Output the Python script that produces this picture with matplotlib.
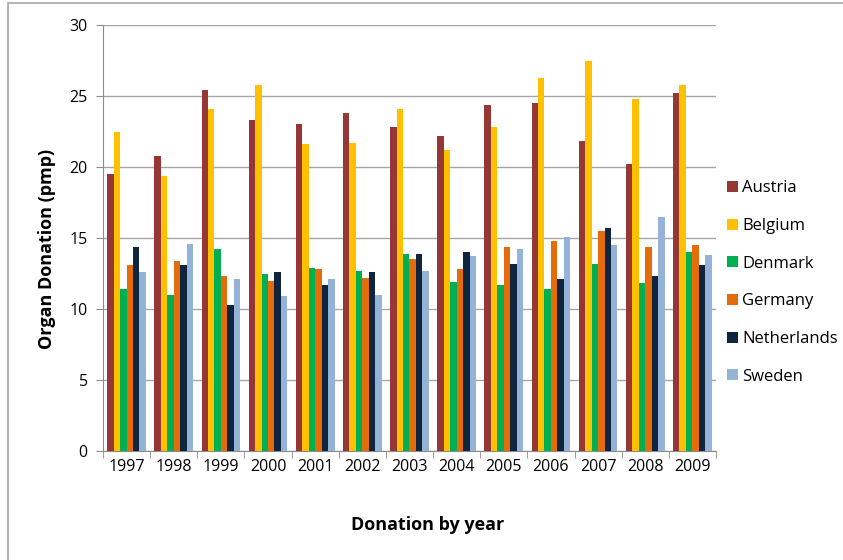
import numpy as np
import matplotlib.pyplot as plt
from matplotlib.patches import Rectangle

years = ["1997", "1998", "1999", "2000", "2001", "2002", "2003",
         "2004", "2005", "2006", "2007", "2008", "2009"]
countries = ["Austria", "Belgium", "Denmark", "Germany", "Netherlands", "Sweden"]

austria = [19.5, 20.8, 25.4, 23.3, 23.0, 23.8, 22.8, 22.2, 24.4, 24.5, 21.8, 20.2, 25.2]
belgium = [22.5, 19.4, 24.1, 25.8, 21.6, 21.7, 24.1, 21.2, 22.8, 26.3, 27.5, 24.8, 25.8]
denmark = [11.4, 11.0, 14.2, 12.5, 12.9, 12.7, 13.9, 11.9, 11.7, 11.4, 13.2, 11.8, 14.0]
germany = [13.1, 13.4, 12.3, 12.0, 12.8, 12.2, 13.5, 12.8, 14.4, 14.8, 15.5, 14.4, 14.5]
netherlands = [14.4, 13.1, 10.3, 12.6, 11.7, 12.6, 13.9, 14.0, 13.2, 12.1, 15.7, 12.3, 13.1]
sweden = [12.6, 14.6, 12.1, 10.9, 12.1, 11.0, 12.7, 13.7, 14.2, 15.1, 14.5, 16.5, 13.8]

series = [austria, belgium, denmark, germany, netherlands, sweden]
colors = ["#953735", "#FFC000", "#00B050", "#E46C0A", "#0F243E", "#95B3D7"]

plt.rcParams["font.family"] = ["Open Sans", "DejaVu Sans"]

fig = plt.figure(figsize=(8.43, 5.60), dpi=100)
# chart-area frame
fig.patches.append(Rectangle((0.0095, -0.01), 1.0, 1.005, transform=fig.transFigure,
                             fill=False, edgecolor="#A6A6A6", linewidth=1.2))
ax = fig.add_axes([0.1222, 0.1946, 0.7271, 0.7607])

x = np.arange(len(years))
n = len(series)
bw = 0.82 / n
handles = []
for i, (vals, c) in enumerate(zip(series, colors)):
    h = ax.bar(x - 0.41 + bw * (i + 0.5), vals, width=bw, color=c, label=countries[i], zorder=3)
    handles.append(h)

ax.set_xlim(-0.5, len(years) - 0.5)
ax.set_ylim(0, 30)
ax.set_yticks(range(0, 31, 5))
ax.yaxis.grid(True, color="#A6A6A6", linewidth=1, zorder=0)

ax.set_xticks(x)
ax.set_xticklabels(years, fontsize=11.5)
ax.set_xticks(np.arange(-0.5, len(years), 1), minor=True)
ax.tick_params(axis="x", which="major", length=0, pad=5.5)
ax.tick_params(axis="x", which="minor", length=5, color="#8C8C8C")
ax.tick_params(axis="y", length=5, color="#8C8C8C", labelsize=11.5, pad=6)

for side in ["top", "right"]:
    ax.spines[side].set_visible(False)
for side in ["left", "bottom"]:
    ax.spines[side].set_color("#8C8C8C")

ax.set_ylabel("Organ Donation (pmp)", fontsize=13, fontweight="bold")
ax.yaxis.set_label_coords(-0.077, 0.474)
ax.set_xlabel("Donation by year", fontsize=13, fontweight="bold")
ax.xaxis.set_label_coords(0.53, -0.153)

fig.legend(handles=handles, labels=countries, loc="center left",
           bbox_to_anchor=(0.845, 0.4955), frameon=False, fontsize=12,
           handlelength=0.65, handleheight=0.65, handletextpad=0.25, labelspacing=1.3)

fig.savefig("out.png", dpi=100)
